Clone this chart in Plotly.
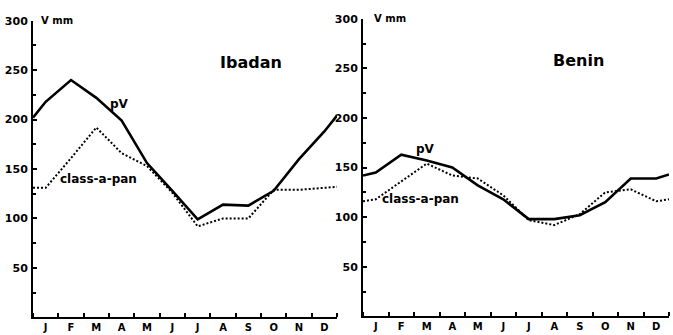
import plotly.graph_objects as go

# Monthly evaporation (mm): Penman pV versus class-A pan
months = ["J", "F", "M", "A", "M", "J", "J", "A", "S", "O", "N", "D"]

ibadan_pv = [218, 240, 222, 199, 156, 128, 99, 114, 113, 128, 160, 188]
ibadan_pan = [131, 161, 192, 166, 153, 126, 92, 100, 100, 129, 129, 131]
benin_pv = [145, 163, 157, 150, 132, 118, 98, 98, 102, 115, 139, 139]
benin_pan = [118, 136, 154, 142, 139, 122, 97, 92, 103, 125, 128, 116]

# values at the turn of the year (start of Jan, end of Dec)
ibadan_pv_ends = [202, 204]
ibadan_pan_ends = [131, 132]
benin_pv_ends = [142, 143]
benin_pan_ends = [116, 118]

y_ticks = [50, 100, 150, 200, 250, 300]

FONT = "DejaVu Sans"


def series(vals, ends):
    x = [0] + [i + 0.5 for i in range(len(vals))] + [len(vals)]
    y = [ends[0]] + list(vals) + [ends[1]]
    return x, y


fig = go.Figure()

panels = [
    ("x", "y", ibadan_pv, ibadan_pv_ends, ibadan_pan, ibadan_pan_ends),
    ("x2", "y2", benin_pv, benin_pv_ends, benin_pan, benin_pan_ends),
]
for xa, ya, pv, pv_e, pan, pan_e in panels:
    px, py = series(pan, pan_e)
    fig.add_trace(go.Scatter(x=px, y=py, xaxis=xa, yaxis=ya, mode="lines",
                             line=dict(color="black", width=2, dash="2px,2px"),
                             cliponaxis=False, showlegend=False))
    px, py = series(pv, pv_e)
    fig.add_trace(go.Scatter(x=px, y=py, xaxis=xa, yaxis=ya, mode="lines",
                             line=dict(color="black", width=2.6),
                             cliponaxis=False, showlegend=False))

W, H = 673, 335


def xaxis(domain):
    return dict(
        domain=domain, range=[0, 12], showgrid=False, zeroline=False,
        showline=True, linecolor="black", linewidth=2,
        tickmode="array", tickvals=[i + 0.5 for i in range(12)], ticktext=months,
        ticks="", tickfont=dict(family=FONT, size=10, color="black", weight="bold"),
        minor=dict(tickmode="array", tickvals=list(range(13)), ticks="inside",
                   ticklen=4, tickwidth=1.5, tickcolor="black"),
        fixedrange=True,
    )


def yaxis(domain, anchor):
    return dict(
        domain=domain, range=[0, 300], anchor=anchor, showgrid=False, zeroline=False,
        showline=True, linecolor="black", linewidth=2,
        tickmode="array", tickvals=y_ticks, ticks="inside", ticklen=4, tickwidth=1.5,
        tickcolor="black", ticklabelstandoff=1,
        tickfont=dict(family=FONT, size=11, color="black", weight="bold"),
        minor=dict(tickmode="array", tickvals=[25, 75, 125, 175, 225, 275],
                   ticks="inside", ticklen=3, tickwidth=1.5, tickcolor="black"),
        fixedrange=True,
    )


ydom1 = [(H - 317) / H, (H - 15) / H]
ydom2 = [(H - 316) / H, (H - 13) / H]

fig.update_layout(
    width=W, height=H,
    margin=dict(l=0, r=0, t=0, b=0),
    paper_bgcolor="white", plot_bgcolor="white",
    xaxis=dict(xaxis([33 / W, 337 / W]), anchor="y"),
    yaxis=yaxis(ydom1, "x"),
    xaxis2=dict(xaxis([363 / W, 669 / W]), anchor="y2"),
    yaxis2=yaxis(ydom2, "x2"),
)


def label(text, xref, yref, x, y, size, xanchor="center"):
    fig.add_annotation(text=text, x=x, y=y, xref=xref, yref=yref, showarrow=False,
                       xanchor=xanchor, yanchor="middle",
                       font=dict(family=FONT, size=size, color="black", weight="bold"))


label("Ibadan", "x", "y", 8.6, 258, 16)
label("pV", "x", "y", 3.4, 216, 12)
label("class-a-pan", "x", "y", 2.6, 140, 12)
label("V mm", "x", "y", 0.25, 300, 10, xanchor="left")

label("Benin", "x2", "y2", 8.45, 258, 16)
label("pV", "x2", "y2", 2.47, 169, 12)
label("class-a-pan", "x2", "y2", 2.27, 118, 12)
label("V mm", "x2", "y2", 0.35, 300, 10, xanchor="left")

fig.write_html("out.html")
